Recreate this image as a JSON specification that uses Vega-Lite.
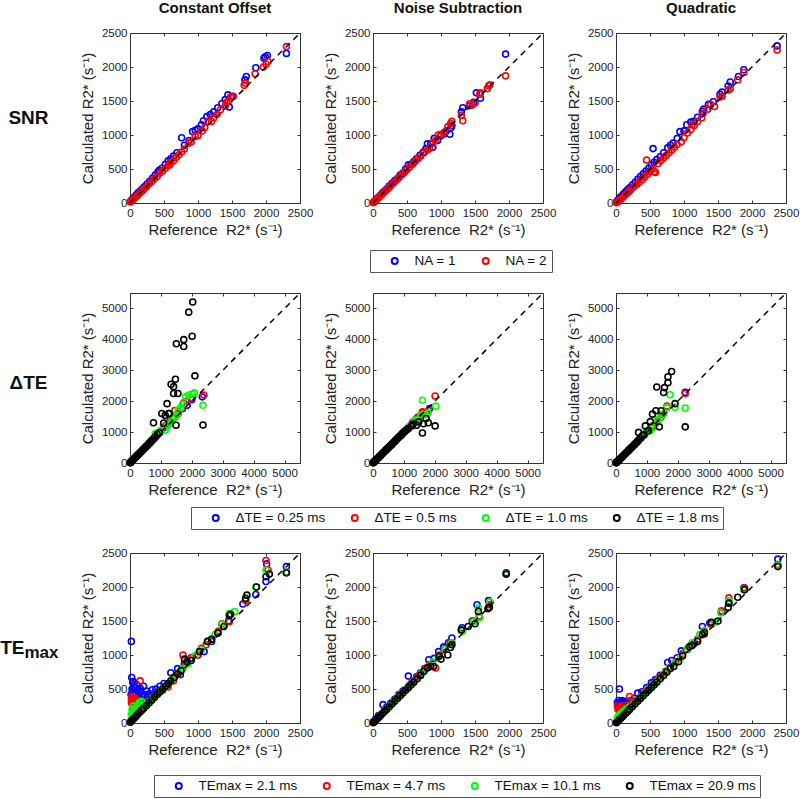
{
"$schema": "https://vega.github.io/schema/vega-lite/v6.json",
"padding": {"left": 0, "top": 0, "right": 0, "bottom": 0},
"config": {
 "font": "Liberation Sans",
 "numberFormat": "d",
 "view": {"stroke": "#333", "strokeWidth": 1},
 "axis": {"grid": false, "domain": false, "ticks": true, "tickSize": -3, "tickColor": "#333", "tickWidth": 1, "labelFontSize": 11.5, "labelColor": "#222", "titleFontSize": 15, "titleFontWeight": "normal", "titleColor": "#222", "labelOverlap": false, "tickCount": 5, "format": "d"},
 "axisX": {"labelPadding": 7, "titlePadding": 4, "labelFlush": false},
 "axisY": {"labelPadding": 6, "titlePadding": 6},
 "title": {"fontSize": 15, "fontWeight": "bold", "color": "#111", "offset": 11, "frame": "group", "anchor": "middle"},
 "legend": {"direction": "horizontal", "orient": "none", "title": null, "labelFontSize": 13.5, "labelColor": "#111", "symbolType": "circle", "symbolSize": 36, "symbolStrokeWidth": 2, "labelOffset": 13, "symbolOffset": 14, "columnPadding": 8, "padding": 4, "strokeColor": "#555", "fillColor": "#fff"}
},
"concat": [
 {"width": 57, "height": 170, "view": {"stroke": null},
  "data": {"values": [{"t": "SNR"}]},
  "mark": {"type": "text", "fontSize": 19, "fontWeight": "bold", "color": "#111"},
  "encoding": {"text": {"field": "t", "type": "nominal"}}},
 {"width": 170, "height": 170, "title": "Constant Offset",
  "resolve": {"axis": {"x": "independent", "y": "independent"}},
  "layer": [
   {"data": {"values": [
{"g":"1","x":10,"y":30},{"g":"1","x":25,"y":45},{"g":"1","x":45,"y":70},{"g":"1","x":70,"y":95},{"g":"1","x":95,"y":120},{"g":"1","x":120,"y":150},{"g":"1","x":150,"y":175},{"g":"1","x":180,"y":205},{"g":"1","x":210,"y":240},{"g":"1","x":250,"y":280},{"g":"1","x":290,"y":320},{"g":"1","x":330,"y":365},{"g":"1","x":370,"y":410},{"g":"1","x":410,"y":455},{"g":"1","x":430,"y":480},{"g":"1","x":470,"y":510},{"g":"1","x":520,"y":570},{"g":"1","x":560,"y":620},{"g":"1","x":600,"y":650},{"g":"1","x":640,"y":690},{"g":"1","x":690,"y":740},{"g":"1","x":760,"y":960},{"g":"1","x":800,"y":850},{"g":"1","x":870,"y":920},{"g":"1","x":920,"y":1050},{"g":"1","x":960,"y":1070},{"g":"1","x":1000,"y":1090},{"g":"1","x":1050,"y":1150},{"g":"1","x":1080,"y":1210},{"g":"1","x":1130,"y":1270},{"g":"1","x":1180,"y":1300},{"g":"1","x":1230,"y":1340},{"g":"1","x":1290,"y":1400},{"g":"1","x":1350,"y":1460},{"g":"1","x":1400,"y":1520},{"g":"1","x":1440,"y":1590},{"g":"1","x":1460,"y":1410},{"g":"1","x":1500,"y":1570},{"g":"1","x":1690,"y":1810},{"g":"1","x":1710,"y":1860},{"g":"1","x":1850,"y":1990},{"g":"1","x":1970,"y":2130},{"g":"1","x":1990,"y":2150},{"g":"1","x":2020,"y":2170},{"g":"1","x":2300,"y":2200},
{"g":"2","x":5,"y":15},{"g":"2","x":20,"y":30},{"g":"2","x":40,"y":45},{"g":"2","x":60,"y":65},{"g":"2","x":85,"y":90},{"g":"2","x":110,"y":110},{"g":"2","x":140,"y":140},{"g":"2","x":170,"y":170},{"g":"2","x":200,"y":200},{"g":"2","x":240,"y":235},{"g":"2","x":280,"y":280},{"g":"2","x":320,"y":315},{"g":"2","x":360,"y":355},{"g":"2","x":400,"y":390},{"g":"2","x":440,"y":440},{"g":"2","x":480,"y":470},{"g":"2","x":520,"y":510},{"g":"2","x":560,"y":550},{"g":"2","x":580,"y":560},{"g":"2","x":600,"y":590},{"g":"2","x":640,"y":620},{"g":"2","x":680,"y":670},{"g":"2","x":720,"y":710},{"g":"2","x":760,"y":750},{"g":"2","x":800,"y":795},{"g":"2","x":860,"y":880},{"g":"2","x":900,"y":900},{"g":"2","x":960,"y":980},{"g":"2","x":1000,"y":990},{"g":"2","x":1060,"y":1060},{"g":"2","x":1100,"y":1110},{"g":"2","x":1150,"y":1200},{"g":"2","x":1200,"y":1200},{"g":"2","x":1230,"y":1250},{"g":"2","x":1280,"y":1300},{"g":"2","x":1330,"y":1370},{"g":"2","x":1400,"y":1430},{"g":"2","x":1420,"y":1480},{"g":"2","x":1450,"y":1500},{"g":"2","x":1480,"y":1560},{"g":"2","x":1520,"y":1570},{"g":"2","x":1680,"y":1730},{"g":"2","x":1700,"y":1760},{"g":"2","x":1840,"y":1900},{"g":"2","x":1960,"y":2000},{"g":"2","x":2000,"y":2040},{"g":"2","x":2030,"y":2080},{"g":"2","x":2300,"y":2300}
    ]},
    "mark": {"type": "point", "filled": false, "size": 36, "strokeWidth": 1.6, "opacity": 1},
    "encoding": {
     "x": {"field": "x", "type": "quantitative", "scale": {"domain": [0, 2500], "nice": false}, "axis": {"title": "Reference\u00a0 R2* (s⁻¹)"}},
     "y": {"field": "y", "type": "quantitative", "scale": {"domain": [0, 2500], "nice": false}, "axis": {"title": "Calculated R2* (s⁻¹)"}},
     "color": {"field": "g", "type": "nominal", "scale": {"domain": ["1", "2"], "range": ["#0000ff", "#ff0000"]}, "legend": null}}},
   {"data": {"values": [{"v": 0}, {"v": 2500}]}, "mark": {"type": "line", "strokeDash": [6, 5], "color": "#000", "strokeWidth": 1.5},
    "encoding": {"x": {"field": "v", "type": "quantitative", "axis": {"orient": "top", "labels": false, "title": null}}, "y": {"field": "v", "type": "quantitative", "axis": {"orient": "right", "labels": false, "title": null}}}}
  ]},
 {"width": 170, "height": 170, "title": "Noise Subtraction",
  "resolve": {"axis": {"x": "independent", "y": "independent"}},
  "layer": [
   {"data": {"values": [
{"g":"1","x":10,"y":15},{"g":"1","x":30,"y":35},{"g":"1","x":55,"y":60},{"g":"1","x":80,"y":85},{"g":"1","x":110,"y":115},{"g":"1","x":140,"y":150},{"g":"1","x":170,"y":175},{"g":"1","x":200,"y":205},{"g":"1","x":240,"y":250},{"g":"1","x":280,"y":290},{"g":"1","x":320,"y":330},{"g":"1","x":360,"y":360},{"g":"1","x":400,"y":410},{"g":"1","x":440,"y":440},{"g":"1","x":480,"y":500},{"g":"1","x":520,"y":560},{"g":"1","x":560,"y":570},{"g":"1","x":600,"y":610},{"g":"1","x":640,"y":650},{"g":"1","x":690,"y":700},{"g":"1","x":740,"y":750},{"g":"1","x":780,"y":800},{"g":"1","x":800,"y":870},{"g":"1","x":850,"y":870},{"g":"1","x":880,"y":820},{"g":"1","x":900,"y":950},{"g":"1","x":950,"y":920},{"g":"1","x":1000,"y":990},{"g":"1","x":1050,"y":1020},{"g":"1","x":1080,"y":1060},{"g":"1","x":1130,"y":1010},{"g":"1","x":1150,"y":1110},{"g":"1","x":1160,"y":1140},{"g":"1","x":1300,"y":1340},{"g":"1","x":1320,"y":1400},{"g":"1","x":1420,"y":1430},{"g":"1","x":1480,"y":1480},{"g":"1","x":1520,"y":1620},{"g":"1","x":1580,"y":1540},{"g":"1","x":1950,"y":2190},
{"g":"2","x":5,"y":5},{"g":"2","x":25,"y":25},{"g":"2","x":50,"y":48},{"g":"2","x":75,"y":72},{"g":"2","x":100,"y":95},{"g":"2","x":130,"y":125},{"g":"2","x":160,"y":155},{"g":"2","x":190,"y":185},{"g":"2","x":220,"y":215},{"g":"2","x":260,"y":250},{"g":"2","x":300,"y":290},{"g":"2","x":340,"y":335},{"g":"2","x":380,"y":370},{"g":"2","x":420,"y":410},{"g":"2","x":460,"y":450},{"g":"2","x":500,"y":490},{"g":"2","x":540,"y":530},{"g":"2","x":580,"y":570},{"g":"2","x":620,"y":610},{"g":"2","x":660,"y":650},{"g":"2","x":700,"y":690},{"g":"2","x":750,"y":740},{"g":"2","x":800,"y":780},{"g":"2","x":830,"y":800},{"g":"2","x":880,"y":880},{"g":"2","x":920,"y":920},{"g":"2","x":960,"y":1000},{"g":"2","x":1000,"y":1010},{"g":"2","x":1050,"y":1040},{"g":"2","x":1100,"y":1120},{"g":"2","x":1140,"y":1170},{"g":"2","x":1160,"y":1200},{"g":"2","x":1300,"y":1290},{"g":"2","x":1320,"y":1210},{"g":"2","x":1420,"y":1460},{"g":"2","x":1460,"y":1440},{"g":"2","x":1500,"y":1470},{"g":"2","x":1570,"y":1600},{"g":"2","x":1580,"y":1620},{"g":"2","x":1680,"y":1680},{"g":"2","x":1700,"y":1720},{"g":"2","x":1720,"y":1740},{"g":"2","x":1950,"y":1870}
    ]},
    "mark": {"type": "point", "filled": false, "size": 36, "strokeWidth": 1.6, "opacity": 1},
    "encoding": {
     "x": {"field": "x", "type": "quantitative", "scale": {"domain": [0, 2500], "nice": false}, "axis": {"title": "Reference\u00a0 R2* (s⁻¹)"}},
     "y": {"field": "y", "type": "quantitative", "scale": {"domain": [0, 2500], "nice": false}, "axis": {"title": "Calculated R2* (s⁻¹)"}},
     "color": {"field": "g", "type": "nominal", "scale": {"domain": ["1", "2"], "range": ["#0000ff", "#ff0000"]},
      "legend": {"legendX": -3, "legendY": 217, "labelExpr": "'NA = ' + datum.label"}}}},
   {"data": {"values": [{"v": 0}, {"v": 2500}]}, "mark": {"type": "line", "strokeDash": [6, 5], "color": "#000", "strokeWidth": 1.5},
    "encoding": {"x": {"field": "v", "type": "quantitative", "axis": {"orient": "top", "labels": false, "title": null}}, "y": {"field": "v", "type": "quantitative", "axis": {"orient": "right", "labels": false, "title": null}}}}
  ]},
 {"width": 170, "height": 170, "title": "Quadratic",
  "resolve": {"axis": {"x": "independent", "y": "independent"}},
  "layer": [
   {"data": {"values": [
{"g":"1","x":10,"y":20},{"g":"1","x":30,"y":45},{"g":"1","x":55,"y":75},{"g":"1","x":80,"y":100},{"g":"1","x":110,"y":130},{"g":"1","x":140,"y":165},{"g":"1","x":170,"y":195},{"g":"1","x":200,"y":225},{"g":"1","x":240,"y":265},{"g":"1","x":280,"y":305},{"g":"1","x":320,"y":350},{"g":"1","x":360,"y":390},{"g":"1","x":400,"y":430},{"g":"1","x":440,"y":470},{"g":"1","x":480,"y":510},{"g":"1","x":520,"y":560},{"g":"1","x":560,"y":600},{"g":"1","x":600,"y":640},{"g":"1","x":545,"y":800},{"g":"1","x":650,"y":680},{"g":"1","x":700,"y":740},{"g":"1","x":760,"y":810},{"g":"1","x":800,"y":850},{"g":"1","x":840,"y":880},{"g":"1","x":900,"y":950},{"g":"1","x":940,"y":1050},{"g":"1","x":1000,"y":1060},{"g":"1","x":1040,"y":1150},{"g":"1","x":1100,"y":1190},{"g":"1","x":1140,"y":1200},{"g":"1","x":1200,"y":1260},{"g":"1","x":1270,"y":1350},{"g":"1","x":1290,"y":1380},{"g":"1","x":1360,"y":1450},{"g":"1","x":1430,"y":1490},{"g":"1","x":1530,"y":1600},{"g":"1","x":1560,"y":1630},{"g":"1","x":1650,"y":1720},{"g":"1","x":1680,"y":1780},{"g":"1","x":1800,"y":1860},{"g":"1","x":1880,"y":1960},{"g":"1","x":2370,"y":2310},
{"g":"2","x":5,"y":5},{"g":"2","x":25,"y":15},{"g":"2","x":50,"y":35},{"g":"2","x":75,"y":60},{"g":"2","x":100,"y":85},{"g":"2","x":130,"y":115},{"g":"2","x":160,"y":140},{"g":"2","x":190,"y":170},{"g":"2","x":220,"y":200},{"g":"2","x":260,"y":235},{"g":"2","x":300,"y":270},{"g":"2","x":340,"y":300},{"g":"2","x":380,"y":340},{"g":"2","x":420,"y":380},{"g":"2","x":450,"y":630},{"g":"2","x":460,"y":420},{"g":"2","x":500,"y":460},{"g":"2","x":540,"y":500},{"g":"2","x":560,"y":460},{"g":"2","x":580,"y":450},{"g":"2","x":620,"y":580},{"g":"2","x":660,"y":620},{"g":"2","x":700,"y":660},{"g":"2","x":740,"y":700},{"g":"2","x":780,"y":740},{"g":"2","x":820,"y":780},{"g":"2","x":860,"y":820},{"g":"2","x":900,"y":860},{"g":"2","x":960,"y":900},{"g":"2","x":1000,"y":960},{"g":"2","x":1050,"y":1030},{"g":"2","x":1100,"y":1080},{"g":"2","x":1120,"y":1150},{"g":"2","x":1150,"y":1140},{"g":"2","x":1200,"y":1200},{"g":"2","x":1260,"y":1250},{"g":"2","x":1280,"y":1320},{"g":"2","x":1350,"y":1380},{"g":"2","x":1390,"y":1450},{"g":"2","x":1450,"y":1420},{"g":"2","x":1530,"y":1560},{"g":"2","x":1560,"y":1570},{"g":"2","x":1650,"y":1660},{"g":"2","x":1680,"y":1680},{"g":"2","x":1790,"y":1810},{"g":"2","x":1880,"y":1920},{"g":"2","x":2370,"y":2250}
    ]},
    "mark": {"type": "point", "filled": false, "size": 36, "strokeWidth": 1.6, "opacity": 1},
    "encoding": {
     "x": {"field": "x", "type": "quantitative", "scale": {"domain": [0, 2500], "nice": false}, "axis": {"title": "Reference\u00a0 R2* (s⁻¹)"}},
     "y": {"field": "y", "type": "quantitative", "scale": {"domain": [0, 2500], "nice": false}, "axis": {"title": "Calculated R2* (s⁻¹)"}},
     "color": {"field": "g", "type": "nominal", "scale": {"domain": ["1", "2"], "range": ["#0000ff", "#ff0000"]}, "legend": null}}},
   {"data": {"values": [{"v": 0}, {"v": 2500}]}, "mark": {"type": "line", "strokeDash": [6, 5], "color": "#000", "strokeWidth": 1.5},
    "encoding": {"x": {"field": "v", "type": "quantitative", "axis": {"orient": "top", "labels": false, "title": null}}, "y": {"field": "v", "type": "quantitative", "axis": {"orient": "right", "labels": false, "title": null}}}}
  ]},
 {"width": 57, "height": 170, "view": {"stroke": null},
  "data": {"values": [{"t": "ΔTE"}]},
  "mark": {"type": "text", "fontSize": 19, "fontWeight": "bold", "color": "#111", "dy": 5},
  "encoding": {"text": {"field": "t", "type": "nominal"}}},
 {"width": 170, "height": 170,
  "resolve": {"axis": {"x": "independent", "y": "independent"}},
  "layer": [
   {"data": {"values": [
{"g":"0.25","x":20,"y":20},{"g":"0.25","x":80,"y":80},{"g":"0.25","x":150,"y":150},{"g":"0.25","x":250,"y":250},{"g":"0.25","x":350,"y":350},{"g":"0.25","x":450,"y":450},{"g":"0.25","x":550,"y":550},{"g":"0.25","x":650,"y":650},{"g":"0.25","x":750,"y":760},{"g":"0.25","x":850,"y":870},{"g":"0.25","x":950,"y":980},{"g":"0.25","x":1100,"y":1150},{"g":"0.25","x":1250,"y":1300},{"g":"0.25","x":1400,"y":1450},{"g":"0.25","x":1550,"y":1600},{"g":"0.25","x":1700,"y":1760},{"g":"0.25","x":1850,"y":1870},{"g":"0.25","x":2000,"y":2050},{"g":"0.25","x":2340,"y":2140},
{"g":"0.5","x":30,"y":30},{"g":"0.5","x":100,"y":100},{"g":"0.5","x":200,"y":200},{"g":"0.5","x":300,"y":300},{"g":"0.5","x":400,"y":400},{"g":"0.5","x":500,"y":500},{"g":"0.5","x":600,"y":600},{"g":"0.5","x":700,"y":710},{"g":"0.5","x":800,"y":820},{"g":"0.5","x":900,"y":930},{"g":"0.5","x":1000,"y":1040},{"g":"0.5","x":1150,"y":1200},{"g":"0.5","x":1300,"y":1350},{"g":"0.5","x":1450,"y":1700},{"g":"0.5","x":1550,"y":1600},{"g":"0.5","x":1740,"y":1950},{"g":"0.5","x":1850,"y":2000},{"g":"0.5","x":2000,"y":2100},{"g":"0.5","x":2390,"y":2200},
{"g":"1.0","x":40,"y":45},{"g":"1.0","x":120,"y":125},{"g":"1.0","x":220,"y":230},{"g":"1.0","x":320,"y":330},{"g":"1.0","x":420,"y":430},{"g":"1.0","x":520,"y":530},{"g":"1.0","x":620,"y":640},{"g":"1.0","x":720,"y":740},{"g":"1.0","x":820,"y":950},{"g":"1.0","x":900,"y":980},{"g":"1.0","x":1000,"y":1050},{"g":"1.0","x":1140,"y":1060},{"g":"1.0","x":1200,"y":1200},{"g":"1.0","x":1300,"y":1270},{"g":"1.0","x":1350,"y":1350},{"g":"1.0","x":1450,"y":1480},{"g":"1.0","x":1520,"y":1540},{"g":"1.0","x":1560,"y":1710},{"g":"1.0","x":1650,"y":1800},{"g":"1.0","x":1700,"y":1900},{"g":"1.0","x":1800,"y":2140},{"g":"1.0","x":1900,"y":2200},{"g":"1.0","x":2010,"y":2230},{"g":"1.0","x":2080,"y":2270},{"g":"1.0","x":2360,"y":1870},
{"g":"1.8","x":5,"y":5},{"g":"1.8","x":20,"y":22},{"g":"1.8","x":40,"y":42},{"g":"1.8","x":60,"y":62},{"g":"1.8","x":80,"y":85},{"g":"1.8","x":100,"y":105},{"g":"1.8","x":130,"y":135},{"g":"1.8","x":160,"y":165},{"g":"1.8","x":190,"y":195},{"g":"1.8","x":220,"y":230},{"g":"1.8","x":250,"y":260},{"g":"1.8","x":280,"y":290},{"g":"1.8","x":320,"y":330},{"g":"1.8","x":360,"y":370},{"g":"1.8","x":400,"y":410},{"g":"1.8","x":440,"y":455},{"g":"1.8","x":480,"y":495},{"g":"1.8","x":520,"y":535},{"g":"1.8","x":560,"y":575},{"g":"1.8","x":600,"y":620},{"g":"1.8","x":640,"y":660},{"g":"1.8","x":680,"y":700},{"g":"1.8","x":720,"y":745},{"g":"1.8","x":760,"y":1300},{"g":"1.8","x":780,"y":800},{"g":"1.8","x":820,"y":850},{"g":"1.8","x":880,"y":920},{"g":"1.8","x":950,"y":980},{"g":"1.8","x":1030,"y":1600},{"g":"1.8","x":1090,"y":1290},{"g":"1.8","x":1140,"y":1540},{"g":"1.8","x":1200,"y":1920},{"g":"1.8","x":1250,"y":1600},{"g":"1.8","x":1270,"y":1600},{"g":"1.8","x":1330,"y":2550},{"g":"1.8","x":1410,"y":2470},{"g":"1.8","x":1410,"y":2250},{"g":"1.8","x":1470,"y":2710},{"g":"1.8","x":1490,"y":1220},{"g":"1.8","x":1500,"y":3860},{"g":"1.8","x":1550,"y":2250},{"g":"1.8","x":1740,"y":3990},{"g":"1.8","x":1740,"y":3770},{"g":"1.8","x":1900,"y":4880},{"g":"1.8","x":2010,"y":4100},{"g":"1.8","x":2030,"y":5210},{"g":"1.8","x":2100,"y":2820},{"g":"1.8","x":2360,"y":1230}
    ]},
    "mark": {"type": "point", "filled": false, "size": 36, "strokeWidth": 1.6, "opacity": 1},
    "encoding": {
     "x": {"field": "x", "type": "quantitative", "scale": {"domain": [0, 5500], "nice": false}, "axis": {"title": "Reference\u00a0 R2* (s⁻¹)"}},
     "y": {"field": "y", "type": "quantitative", "scale": {"domain": [0, 5500], "nice": false}, "axis": {"title": "Calculated R2* (s⁻¹)"}},
     "color": {"field": "g", "type": "nominal", "scale": {"domain": ["0.25", "0.5", "1.0", "1.8"], "range": ["#0000ff", "#ff0000", "#00ff00", "#000000"]}, "legend": null}}},
   {"data": {"values": [{"v": 0}, {"v": 5500}]}, "mark": {"type": "line", "strokeDash": [6, 5], "color": "#000", "strokeWidth": 1.5},
    "encoding": {"x": {"field": "v", "type": "quantitative", "axis": {"orient": "top", "labels": false, "title": null}}, "y": {"field": "v", "type": "quantitative", "axis": {"orient": "right", "labels": false, "title": null}}}}
  ]},
 {"width": 170, "height": 170,
  "resolve": {"axis": {"x": "independent", "y": "independent"}},
  "layer": [
   {"data": {"values": [
{"g":"0.25","x":20,"y":20},{"g":"0.25","x":100,"y":100},{"g":"0.25","x":200,"y":200},{"g":"0.25","x":300,"y":300},{"g":"0.25","x":400,"y":400},{"g":"0.25","x":500,"y":490},{"g":"0.25","x":600,"y":580},{"g":"0.25","x":700,"y":690},{"g":"0.25","x":800,"y":800},{"g":"0.25","x":900,"y":880},{"g":"0.25","x":1000,"y":990},{"g":"0.25","x":1100,"y":1080},{"g":"0.25","x":1250,"y":1250},{"g":"0.25","x":1400,"y":1420},{"g":"0.25","x":1550,"y":1560},{"g":"0.25","x":1830,"y":1760},
{"g":"0.5","x":30,"y":30},{"g":"0.5","x":120,"y":120},{"g":"0.5","x":220,"y":220},{"g":"0.5","x":320,"y":320},{"g":"0.5","x":420,"y":420},{"g":"0.5","x":520,"y":520},{"g":"0.5","x":620,"y":620},{"g":"0.5","x":720,"y":720},{"g":"0.5","x":820,"y":830},{"g":"0.5","x":920,"y":920},{"g":"0.5","x":1020,"y":1020},{"g":"0.5","x":1150,"y":1150},{"g":"0.5","x":1300,"y":1330},{"g":"0.5","x":1450,"y":1480},{"g":"0.5","x":1600,"y":1630},{"g":"0.5","x":1600,"y":1660},{"g":"0.5","x":1800,"y":1700},{"g":"0.5","x":2010,"y":2170},
{"g":"1.0","x":40,"y":40},{"g":"1.0","x":140,"y":140},{"g":"1.0","x":240,"y":240},{"g":"1.0","x":340,"y":340},{"g":"1.0","x":440,"y":440},{"g":"1.0","x":540,"y":540},{"g":"1.0","x":640,"y":640},{"g":"1.0","x":740,"y":750},{"g":"1.0","x":840,"y":860},{"g":"1.0","x":940,"y":950},{"g":"1.0","x":1050,"y":1060},{"g":"1.0","x":1200,"y":1200},{"g":"1.0","x":1350,"y":1380},{"g":"1.0","x":1420,"y":1400},{"g":"1.0","x":1550,"y":1550},{"g":"1.0","x":1600,"y":2030},{"g":"1.0","x":1680,"y":1560},{"g":"1.0","x":1780,"y":1620},{"g":"1.0","x":2030,"y":1840},
{"g":"1.8","x":5,"y":5},{"g":"1.8","x":20,"y":20},{"g":"1.8","x":40,"y":40},{"g":"1.8","x":60,"y":60},{"g":"1.8","x":80,"y":80},{"g":"1.8","x":100,"y":100},{"g":"1.8","x":130,"y":130},{"g":"1.8","x":160,"y":160},{"g":"1.8","x":190,"y":190},{"g":"1.8","x":220,"y":220},{"g":"1.8","x":250,"y":250},{"g":"1.8","x":280,"y":280},{"g":"1.8","x":320,"y":320},{"g":"1.8","x":360,"y":360},{"g":"1.8","x":400,"y":400},{"g":"1.8","x":440,"y":440},{"g":"1.8","x":480,"y":480},{"g":"1.8","x":520,"y":520},{"g":"1.8","x":560,"y":560},{"g":"1.8","x":600,"y":600},{"g":"1.8","x":640,"y":640},{"g":"1.8","x":680,"y":680},{"g":"1.8","x":720,"y":720},{"g":"1.8","x":760,"y":760},{"g":"1.8","x":800,"y":800},{"g":"1.8","x":850,"y":850},{"g":"1.8","x":900,"y":900},{"g":"1.8","x":950,"y":950},{"g":"1.8","x":1000,"y":1000},{"g":"1.8","x":1050,"y":1040},{"g":"1.8","x":1100,"y":1080},{"g":"1.8","x":1150,"y":1120},{"g":"1.8","x":1250,"y":1200},{"g":"1.8","x":1300,"y":1260},{"g":"1.8","x":1410,"y":1220},{"g":"1.8","x":1480,"y":1330},{"g":"1.8","x":1600,"y":970},{"g":"1.8","x":1630,"y":1270},{"g":"1.8","x":1720,"y":1440},{"g":"1.8","x":1790,"y":1300},{"g":"1.8","x":2010,"y":1200}
    ]},
    "mark": {"type": "point", "filled": false, "size": 36, "strokeWidth": 1.6, "opacity": 1},
    "encoding": {
     "x": {"field": "x", "type": "quantitative", "scale": {"domain": [0, 5500], "nice": false}, "axis": {"title": "Reference\u00a0 R2* (s⁻¹)"}},
     "y": {"field": "y", "type": "quantitative", "scale": {"domain": [0, 5500], "nice": false}, "axis": {"title": "Calculated R2* (s⁻¹)"}},
     "color": {"field": "g", "type": "nominal", "scale": {"domain": ["0.25", "0.5", "1.0", "1.8"], "range": ["#0000ff", "#ff0000", "#00ff00", "#000000"]},
      "legend": {"legendX": -182, "legendY": 214, "labelExpr": "'ΔTE = ' + datum.label + ' ms'"}}}},
   {"data": {"values": [{"v": 0}, {"v": 5500}]}, "mark": {"type": "line", "strokeDash": [6, 5], "color": "#000", "strokeWidth": 1.5},
    "encoding": {"x": {"field": "v", "type": "quantitative", "axis": {"orient": "top", "labels": false, "title": null}}, "y": {"field": "v", "type": "quantitative", "axis": {"orient": "right", "labels": false, "title": null}}}}
  ]},
 {"width": 170, "height": 170,
  "resolve": {"axis": {"x": "independent", "y": "independent"}},
  "layer": [
   {"data": {"values": [
{"g":"0.25","x":20,"y":20},{"g":"0.25","x":100,"y":100},{"g":"0.25","x":200,"y":200},{"g":"0.25","x":300,"y":300},{"g":"0.25","x":400,"y":400},{"g":"0.25","x":500,"y":500},{"g":"0.25","x":600,"y":600},{"g":"0.25","x":700,"y":700},{"g":"0.25","x":800,"y":800},{"g":"0.25","x":900,"y":900},{"g":"0.25","x":1000,"y":1000},{"g":"0.25","x":1150,"y":1150},{"g":"0.25","x":1300,"y":1300},{"g":"0.25","x":1450,"y":1480},{"g":"0.25","x":1650,"y":1800},{"g":"0.25","x":2240,"y":2290},
{"g":"0.5","x":30,"y":30},{"g":"0.5","x":120,"y":120},{"g":"0.5","x":220,"y":220},{"g":"0.5","x":320,"y":320},{"g":"0.5","x":420,"y":420},{"g":"0.5","x":520,"y":520},{"g":"0.5","x":620,"y":620},{"g":"0.5","x":720,"y":720},{"g":"0.5","x":820,"y":820},{"g":"0.5","x":920,"y":920},{"g":"0.5","x":1050,"y":1050},{"g":"0.5","x":1200,"y":1210},{"g":"0.5","x":1350,"y":1380},{"g":"0.5","x":1500,"y":1560},{"g":"0.5","x":1650,"y":1840},{"g":"0.5","x":2240,"y":2250},
{"g":"1.0","x":40,"y":40},{"g":"1.0","x":140,"y":140},{"g":"1.0","x":240,"y":240},{"g":"1.0","x":340,"y":340},{"g":"1.0","x":440,"y":440},{"g":"1.0","x":540,"y":540},{"g":"1.0","x":640,"y":640},{"g":"1.0","x":740,"y":750},{"g":"1.0","x":840,"y":860},{"g":"1.0","x":960,"y":980},{"g":"1.0","x":1100,"y":1040},{"g":"1.0","x":1200,"y":1150},{"g":"1.0","x":1270,"y":1260},{"g":"1.0","x":1350,"y":1400},{"g":"1.0","x":1430,"y":1470},{"g":"1.0","x":1550,"y":1600},{"g":"1.0","x":1650,"y":1800},{"g":"1.0","x":1750,"y":2210},{"g":"1.0","x":1910,"y":1800},{"g":"1.0","x":2240,"y":1780},
{"g":"1.8","x":5,"y":5},{"g":"1.8","x":20,"y":20},{"g":"1.8","x":40,"y":40},{"g":"1.8","x":60,"y":60},{"g":"1.8","x":80,"y":80},{"g":"1.8","x":100,"y":100},{"g":"1.8","x":130,"y":130},{"g":"1.8","x":160,"y":160},{"g":"1.8","x":190,"y":190},{"g":"1.8","x":220,"y":220},{"g":"1.8","x":250,"y":250},{"g":"1.8","x":280,"y":280},{"g":"1.8","x":320,"y":320},{"g":"1.8","x":360,"y":360},{"g":"1.8","x":400,"y":400},{"g":"1.8","x":440,"y":440},{"g":"1.8","x":480,"y":480},{"g":"1.8","x":520,"y":520},{"g":"1.8","x":560,"y":560},{"g":"1.8","x":600,"y":600},{"g":"1.8","x":640,"y":640},{"g":"1.8","x":680,"y":680},{"g":"1.8","x":730,"y":990},{"g":"1.8","x":720,"y":730},{"g":"1.8","x":780,"y":800},{"g":"1.8","x":850,"y":880},{"g":"1.8","x":900,"y":920},{"g":"1.8","x":950,"y":1200},{"g":"1.8","x":1050,"y":1050},{"g":"1.8","x":1110,"y":1340},{"g":"1.8","x":1180,"y":1580},{"g":"1.8","x":1290,"y":1690},{"g":"1.8","x":1320,"y":2460},{"g":"1.8","x":1400,"y":1170},{"g":"1.8","x":1460,"y":1690},{"g":"1.8","x":1540,"y":2280},{"g":"1.8","x":1570,"y":2440},{"g":"1.8","x":1680,"y":2600},{"g":"1.8","x":1680,"y":2790},{"g":"1.8","x":1800,"y":2960},{"g":"1.8","x":1910,"y":1920},{"g":"1.8","x":2240,"y":1170}
    ]},
    "mark": {"type": "point", "filled": false, "size": 36, "strokeWidth": 1.6, "opacity": 1},
    "encoding": {
     "x": {"field": "x", "type": "quantitative", "scale": {"domain": [0, 5500], "nice": false}, "axis": {"title": "Reference\u00a0 R2* (s⁻¹)"}},
     "y": {"field": "y", "type": "quantitative", "scale": {"domain": [0, 5500], "nice": false}, "axis": {"title": "Calculated R2* (s⁻¹)"}},
     "color": {"field": "g", "type": "nominal", "scale": {"domain": ["0.25", "0.5", "1.0", "1.8"], "range": ["#0000ff", "#ff0000", "#00ff00", "#000000"]}, "legend": null}}},
   {"data": {"values": [{"v": 0}, {"v": 5500}]}, "mark": {"type": "line", "strokeDash": [6, 5], "color": "#000", "strokeWidth": 1.5},
    "encoding": {"x": {"field": "v", "type": "quantitative", "axis": {"orient": "top", "labels": false, "title": null}}, "y": {"field": "v", "type": "quantitative", "axis": {"orient": "right", "labels": false, "title": null}}}}
  ]},
 {"width": 57, "height": 170, "view": {"stroke": null},
  "layer": [
   {"data": {"values": [{"t": "TE"}]},
    "mark": {"type": "text", "fontSize": 19, "fontWeight": "bold", "color": "#111", "align": "right", "baseline": "alphabetic", "dx": -4, "dy": 16},
    "encoding": {"text": {"field": "t", "type": "nominal"}}},
   {"data": {"values": [{"t": "max"}]},
    "mark": {"type": "text", "fontSize": 17, "fontWeight": "bold", "color": "#111", "align": "left", "baseline": "alphabetic", "dx": -4, "dy": 20},
    "encoding": {"text": {"field": "t", "type": "nominal"}}}
  ]},
 {"width": 170, "height": 170,
  "resolve": {"axis": {"x": "independent", "y": "independent"}},
  "layer": [
   {"data": {"values": [
{"g":"2.1","x":20,"y":1200},{"g":"2.1","x":25,"y":670},{"g":"2.1","x":30,"y":500},{"g":"2.1","x":40,"y":600},{"g":"2.1","x":50,"y":610},{"g":"2.1","x":60,"y":560},{"g":"2.1","x":80,"y":450},{"g":"2.1","x":100,"y":560},{"g":"2.1","x":120,"y":420},{"g":"2.1","x":150,"y":510},{"g":"2.1","x":180,"y":400},{"g":"2.1","x":200,"y":540},{"g":"2.1","x":240,"y":470},{"g":"2.1","x":280,"y":430},{"g":"2.1","x":330,"y":490},{"g":"2.1","x":380,"y":500},{"g":"2.1","x":440,"y":540},{"g":"2.1","x":500,"y":580},{"g":"2.1","x":550,"y":560},{"g":"2.1","x":600,"y":740},{"g":"2.1","x":640,"y":670},{"g":"2.1","x":700,"y":800},{"g":"2.1","x":740,"y":710},{"g":"2.1","x":800,"y":870},{"g":"2.1","x":840,"y":900},{"g":"2.1","x":900,"y":960},{"g":"2.1","x":1000,"y":1000},{"g":"2.1","x":1090,"y":1050},{"g":"2.1","x":1200,"y":1200},{"g":"2.1","x":1300,"y":1330},{"g":"2.1","x":1450,"y":1500},{"g":"2.1","x":1660,"y":1750},{"g":"2.1","x":1850,"y":1890},{"g":"2.1","x":2000,"y":2080},{"g":"2.1","x":2010,"y":2340},{"g":"2.1","x":2300,"y":2300},
{"g":"2.1","x":15,"y":420},{"g":"2.1","x":35,"y":380},{"g":"2.1","x":45,"y":450},{"g":"2.1","x":70,"y":520},{"g":"2.1","x":90,"y":380},{"g":"2.1","x":110,"y":480},{"g":"2.1","x":130,"y":350},{"g":"2.1","x":160,"y":450},{"g":"2.1","x":190,"y":330},{"g":"2.1","x":220,"y":420},{"g":"2.1","x":260,"y":380},{"g":"2.1","x":300,"y":400},{"g":"2.1","x":350,"y":430},{"g":"2.1","x":400,"y":450},
{"g":"4.7","x":30,"y":390},{"g":"4.7","x":40,"y":330},{"g":"4.7","x":50,"y":340},{"g":"4.7","x":60,"y":300},{"g":"4.7","x":80,"y":260},{"g":"4.7","x":100,"y":245},{"g":"4.7","x":120,"y":290},{"g":"4.7","x":150,"y":620},{"g":"4.7","x":180,"y":280},{"g":"4.7","x":220,"y":300},{"g":"4.7","x":260,"y":310},{"g":"4.7","x":300,"y":330},{"g":"4.7","x":360,"y":380},{"g":"4.7","x":420,"y":440},{"g":"4.7","x":480,"y":480},{"g":"4.7","x":560,"y":530},{"g":"4.7","x":640,"y":620},{"g":"4.7","x":720,"y":740},{"g":"4.7","x":780,"y":1000},{"g":"4.7","x":820,"y":880},{"g":"4.7","x":900,"y":950},{"g":"4.7","x":1000,"y":1000},{"g":"4.7","x":1050,"y":1100},{"g":"4.7","x":1120,"y":1150},{"g":"4.7","x":1200,"y":1230},{"g":"4.7","x":1300,"y":1350},{"g":"4.7","x":1350,"y":1460},{"g":"4.7","x":1460,"y":1490},{"g":"4.7","x":1700,"y":1800},{"g":"4.7","x":2000,"y":2390},{"g":"4.7","x":2030,"y":2250},{"g":"4.7","x":2300,"y":2210},
{"g":"4.7","x":20,"y":300},{"g":"4.7","x":35,"y":270},{"g":"4.7","x":55,"y":380},{"g":"4.7","x":70,"y":330},{"g":"4.7","x":90,"y":300},{"g":"4.7","x":110,"y":340},{"g":"4.7","x":130,"y":260},{"g":"4.7","x":20,"y":350},
{"g":"10.1","x":20,"y":120},{"g":"10.1","x":40,"y":150},{"g":"10.1","x":60,"y":180},{"g":"10.1","x":100,"y":170},{"g":"10.1","x":120,"y":260},{"g":"10.1","x":170,"y":320},{"g":"10.1","x":200,"y":230},{"g":"10.1","x":250,"y":280},{"g":"10.1","x":300,"y":320},{"g":"10.1","x":350,"y":380},{"g":"10.1","x":400,"y":420},{"g":"10.1","x":450,"y":470},{"g":"10.1","x":500,"y":520},{"g":"10.1","x":560,"y":580},{"g":"10.1","x":620,"y":640},{"g":"10.1","x":700,"y":720},{"g":"10.1","x":780,"y":800},{"g":"10.1","x":850,"y":870},{"g":"10.1","x":950,"y":990},{"g":"10.1","x":1050,"y":1080},{"g":"10.1","x":1150,"y":1200},{"g":"10.1","x":1250,"y":1300},{"g":"10.1","x":1350,"y":1450},{"g":"10.1","x":1460,"y":1610},{"g":"10.1","x":1540,"y":1640},{"g":"10.1","x":1700,"y":1840},{"g":"10.1","x":1850,"y":2000},{"g":"10.1","x":2000,"y":2250},{"g":"10.1","x":2300,"y":2220},
{"g":"10.1","x":30,"y":200},{"g":"10.1","x":50,"y":250},{"g":"10.1","x":80,"y":220},{"g":"10.1","x":140,"y":300},{"g":"10.1","x":160,"y":260},{"g":"10.1","x":180,"y":200},{"g":"10.1","x":230,"y":250},
{"g":"20.9","x":5,"y":10},{"g":"20.9","x":15,"y":30},{"g":"20.9","x":30,"y":45},{"g":"20.9","x":50,"y":60},{"g":"20.9","x":70,"y":80},{"g":"20.9","x":90,"y":100},{"g":"20.9","x":110,"y":125},{"g":"20.9","x":140,"y":155},{"g":"20.9","x":170,"y":185},{"g":"20.9","x":200,"y":215},{"g":"20.9","x":240,"y":255},{"g":"20.9","x":280,"y":295},{"g":"20.9","x":320,"y":335},{"g":"20.9","x":360,"y":380},{"g":"20.9","x":400,"y":420},{"g":"20.9","x":440,"y":460},{"g":"20.9","x":480,"y":500},{"g":"20.9","x":520,"y":540},{"g":"20.9","x":560,"y":580},{"g":"20.9","x":600,"y":620},{"g":"20.9","x":650,"y":670},{"g":"20.9","x":700,"y":720},{"g":"20.9","x":750,"y":770},{"g":"20.9","x":800,"y":940},{"g":"20.9","x":840,"y":900},{"g":"20.9","x":900,"y":920},{"g":"20.9","x":1020,"y":1050},{"g":"20.9","x":1140,"y":1200},{"g":"20.9","x":1200,"y":1230},{"g":"20.9","x":1290,"y":1320},{"g":"20.9","x":1380,"y":1420},{"g":"20.9","x":1460,"y":1580},{"g":"20.9","x":1480,"y":1600},{"g":"20.9","x":1700,"y":1830},{"g":"20.9","x":1720,"y":1880},{"g":"20.9","x":1860,"y":2000},{"g":"20.9","x":2000,"y":2150},{"g":"20.9","x":2050,"y":2190},{"g":"20.9","x":2300,"y":2210}
    ]},
    "mark": {"type": "point", "filled": false, "size": 36, "strokeWidth": 1.6, "opacity": 1},
    "encoding": {
     "x": {"field": "x", "type": "quantitative", "scale": {"domain": [0, 2500], "nice": false}, "axis": {"title": "Reference\u00a0 R2* (s⁻¹)"}},
     "y": {"field": "y", "type": "quantitative", "scale": {"domain": [0, 2500], "nice": false}, "axis": {"title": "Calculated R2* (s⁻¹)"}},
     "color": {"field": "g", "type": "nominal", "scale": {"domain": ["2.1", "4.7", "10.1", "20.9"], "range": ["#0000ff", "#ff0000", "#00ff00", "#000000"]}, "legend": null}}},
   {"data": {"values": [{"v": 0}, {"v": 2500}]}, "mark": {"type": "line", "strokeDash": [6, 5], "color": "#000", "strokeWidth": 1.5},
    "encoding": {"x": {"field": "v", "type": "quantitative", "axis": {"orient": "top", "labels": false, "title": null}}, "y": {"field": "v", "type": "quantitative", "axis": {"orient": "right", "labels": false, "title": null}}}}
  ]},
 {"width": 170, "height": 170,
  "resolve": {"axis": {"x": "independent", "y": "independent"}},
  "layer": [
   {"data": {"values": [
{"g":"2.1","x":10,"y":20},{"g":"2.1","x":40,"y":60},{"g":"2.1","x":80,"y":110},{"g":"2.1","x":148,"y":270},{"g":"2.1","x":200,"y":230},{"g":"2.1","x":260,"y":290},{"g":"2.1","x":320,"y":350},{"g":"2.1","x":380,"y":420},{"g":"2.1","x":440,"y":470},{"g":"2.1","x":520,"y":690},{"g":"2.1","x":560,"y":580},{"g":"2.1","x":640,"y":680},{"g":"2.1","x":700,"y":740},{"g":"2.1","x":760,"y":800},{"g":"2.1","x":820,"y":930},{"g":"2.1","x":900,"y":950},{"g":"2.1","x":965,"y":1050},{"g":"2.1","x":1040,"y":1120},{"g":"2.1","x":1110,"y":1180},{"g":"2.1","x":1160,"y":1250},{"g":"2.1","x":1310,"y":1400},{"g":"2.1","x":1460,"y":1500},{"g":"2.1","x":1530,"y":1740},{"g":"2.1","x":1700,"y":1800},{"g":"2.1","x":1960,"y":2210},
{"g":"4.7","x":15,"y":20},{"g":"4.7","x":50,"y":60},{"g":"4.7","x":100,"y":110},{"g":"4.7","x":170,"y":190},{"g":"4.7","x":230,"y":250},{"g":"4.7","x":290,"y":310},{"g":"4.7","x":350,"y":370},{"g":"4.7","x":410,"y":430},{"g":"4.7","x":470,"y":490},{"g":"4.7","x":530,"y":550},{"g":"4.7","x":600,"y":620},{"g":"4.7","x":680,"y":700},{"g":"4.7","x":760,"y":790},{"g":"4.7","x":830,"y":860},{"g":"4.7","x":920,"y":810},{"g":"4.7","x":980,"y":1000},{"g":"4.7","x":1060,"y":1100},{"g":"4.7","x":1140,"y":1180},{"g":"4.7","x":1300,"y":1360},{"g":"4.7","x":1470,"y":1500},{"g":"4.7","x":1560,"y":1570},{"g":"4.7","x":1710,"y":1740},{"g":"4.7","x":1960,"y":2190},
{"g":"10.1","x":20,"y":25},{"g":"10.1","x":60,"y":70},{"g":"10.1","x":120,"y":130},{"g":"10.1","x":190,"y":200},{"g":"10.1","x":250,"y":260},{"g":"10.1","x":310,"y":320},{"g":"10.1","x":370,"y":380},{"g":"10.1","x":430,"y":440},{"g":"10.1","x":490,"y":500},{"g":"10.1","x":560,"y":570},{"g":"10.1","x":640,"y":650},{"g":"10.1","x":720,"y":740},{"g":"10.1","x":800,"y":820},{"g":"10.1","x":880,"y":900},{"g":"10.1","x":960,"y":970},{"g":"10.1","x":1060,"y":1080},{"g":"10.1","x":1160,"y":1180},{"g":"10.1","x":1320,"y":1350},{"g":"10.1","x":1480,"y":1490},{"g":"10.1","x":1550,"y":1690},{"g":"10.1","x":1570,"y":1550},{"g":"10.1","x":1720,"y":1780},{"g":"10.1","x":1960,"y":2190},
{"g":"20.9","x":5,"y":5},{"g":"20.9","x":15,"y":15},{"g":"20.9","x":30,"y":30},{"g":"20.9","x":50,"y":50},{"g":"20.9","x":70,"y":70},{"g":"20.9","x":90,"y":90},{"g":"20.9","x":110,"y":110},{"g":"20.9","x":140,"y":140},{"g":"20.9","x":170,"y":170},{"g":"20.9","x":200,"y":200},{"g":"20.9","x":240,"y":240},{"g":"20.9","x":280,"y":280},{"g":"20.9","x":320,"y":320},{"g":"20.9","x":360,"y":360},{"g":"20.9","x":400,"y":400},{"g":"20.9","x":440,"y":440},{"g":"20.9","x":480,"y":480},{"g":"20.9","x":520,"y":520},{"g":"20.9","x":560,"y":560},{"g":"20.9","x":600,"y":600},{"g":"20.9","x":650,"y":650},{"g":"20.9","x":700,"y":700},{"g":"20.9","x":750,"y":760},{"g":"20.9","x":800,"y":810},{"g":"20.9","x":850,"y":830},{"g":"20.9","x":890,"y":830},{"g":"20.9","x":970,"y":980},{"g":"20.9","x":1000,"y":940},{"g":"20.9","x":1100,"y":1000},{"g":"20.9","x":1140,"y":1110},{"g":"20.9","x":1160,"y":1150},{"g":"20.9","x":1300,"y":1370},{"g":"20.9","x":1400,"y":1420},{"g":"20.9","x":1500,"y":1460},{"g":"20.9","x":1550,"y":1640},{"g":"20.9","x":1690,"y":1680},{"g":"20.9","x":1710,"y":1700},{"g":"20.9","x":1960,"y":2190}
    ]},
    "mark": {"type": "point", "filled": false, "size": 36, "strokeWidth": 1.6, "opacity": 1},
    "encoding": {
     "x": {"field": "x", "type": "quantitative", "scale": {"domain": [0, 2500], "nice": false}, "axis": {"title": "Reference\u00a0 R2* (s⁻¹)"}},
     "y": {"field": "y", "type": "quantitative", "scale": {"domain": [0, 2500], "nice": false}, "axis": {"title": "Calculated R2* (s⁻¹)"}},
     "color": {"field": "g", "type": "nominal", "scale": {"domain": ["2.1", "4.7", "10.1", "20.9"], "range": ["#0000ff", "#ff0000", "#00ff00", "#000000"]},
      "legend": {"legendX": -219, "legendY": 222, "labelExpr": "'TEmax = ' + datum.label + ' ms'"}}}},
   {"data": {"values": [{"v": 0}, {"v": 2500}]}, "mark": {"type": "line", "strokeDash": [6, 5], "color": "#000", "strokeWidth": 1.5},
    "encoding": {"x": {"field": "v", "type": "quantitative", "axis": {"orient": "top", "labels": false, "title": null}}, "y": {"field": "v", "type": "quantitative", "axis": {"orient": "right", "labels": false, "title": null}}}}
  ]},
 {"width": 170, "height": 170,
  "resolve": {"axis": {"x": "independent", "y": "independent"}},
  "layer": [
   {"data": {"values": [
{"g":"2.1","x":30,"y":250},{"g":"2.1","x":50,"y":500},{"g":"2.1","x":60,"y":290},{"g":"2.1","x":80,"y":300},{"g":"2.1","x":100,"y":310},{"g":"2.1","x":130,"y":280},{"g":"2.1","x":170,"y":290},{"g":"2.1","x":220,"y":330},{"g":"2.1","x":270,"y":360},{"g":"2.1","x":320,"y":440},{"g":"2.1","x":380,"y":460},{"g":"2.1","x":450,"y":520},{"g":"2.1","x":520,"y":590},{"g":"2.1","x":580,"y":640},{"g":"2.1","x":650,"y":700},{"g":"2.1","x":760,"y":890},{"g":"2.1","x":820,"y":920},{"g":"2.1","x":900,"y":960},{"g":"2.1","x":960,"y":1060},{"g":"2.1","x":1050,"y":1080},{"g":"2.1","x":1150,"y":1170},{"g":"2.1","x":1270,"y":1420},{"g":"2.1","x":1380,"y":1470},{"g":"2.1","x":1560,"y":1630},{"g":"2.1","x":1660,"y":1770},{"g":"2.1","x":1880,"y":1990},{"g":"2.1","x":2380,"y":2410},
{"g":"2.1","x":20,"y":300},{"g":"2.1","x":40,"y":330},{"g":"2.1","x":70,"y":260},{"g":"2.1","x":90,"y":330},{"g":"2.1","x":120,"y":300},{"g":"2.1","x":150,"y":320},{"g":"2.1","x":190,"y":300},
{"g":"4.7","x":30,"y":200},{"g":"4.7","x":50,"y":230},{"g":"4.7","x":80,"y":210},{"g":"4.7","x":110,"y":230},{"g":"4.7","x":200,"y":390},{"g":"4.7","x":250,"y":300},{"g":"4.7","x":300,"y":330},{"g":"4.7","x":360,"y":380},{"g":"4.7","x":420,"y":460},{"g":"4.7","x":480,"y":500},{"g":"4.7","x":540,"y":560},{"g":"4.7","x":600,"y":630},{"g":"4.7","x":660,"y":680},{"g":"4.7","x":730,"y":760},{"g":"4.7","x":800,"y":820},{"g":"4.7","x":880,"y":900},{"g":"4.7","x":980,"y":1020},{"g":"4.7","x":1100,"y":1140},{"g":"4.7","x":1200,"y":1230},{"g":"4.7","x":1300,"y":1310},{"g":"4.7","x":1400,"y":1450},{"g":"4.7","x":1550,"y":1650},{"g":"4.7","x":1660,"y":1840},{"g":"4.7","x":1890,"y":1990},{"g":"4.7","x":2380,"y":2330},
{"g":"4.7","x":20,"y":250},{"g":"4.7","x":60,"y":200},{"g":"4.7","x":90,"y":250},{"g":"4.7","x":140,"y":220},{"g":"4.7","x":170,"y":260},
{"g":"10.1","x":20,"y":80},{"g":"10.1","x":40,"y":110},{"g":"10.1","x":70,"y":140},{"g":"10.1","x":110,"y":170},{"g":"10.1","x":150,"y":200},{"g":"10.1","x":200,"y":240},{"g":"10.1","x":260,"y":280},{"g":"10.1","x":320,"y":330},{"g":"10.1","x":380,"y":390},{"g":"10.1","x":440,"y":450},{"g":"10.1","x":500,"y":510},{"g":"10.1","x":560,"y":570},{"g":"10.1","x":630,"y":640},{"g":"10.1","x":700,"y":720},{"g":"10.1","x":780,"y":800},{"g":"10.1","x":860,"y":880},{"g":"10.1","x":950,"y":960},{"g":"10.1","x":1050,"y":1090},{"g":"10.1","x":1120,"y":1180},{"g":"10.1","x":1230,"y":1300},{"g":"10.1","x":1300,"y":1360},{"g":"10.1","x":1450,"y":1480},{"g":"10.1","x":1540,"y":1620},{"g":"10.1","x":1660,"y":1800},{"g":"10.1","x":1880,"y":1960},{"g":"10.1","x":2380,"y":2320},
{"g":"20.9","x":5,"y":5},{"g":"20.9","x":15,"y":15},{"g":"20.9","x":30,"y":30},{"g":"20.9","x":50,"y":50},{"g":"20.9","x":70,"y":70},{"g":"20.9","x":90,"y":90},{"g":"20.9","x":110,"y":110},{"g":"20.9","x":140,"y":140},{"g":"20.9","x":170,"y":170},{"g":"20.9","x":200,"y":200},{"g":"20.9","x":240,"y":240},{"g":"20.9","x":280,"y":280},{"g":"20.9","x":320,"y":320},{"g":"20.9","x":360,"y":360},{"g":"20.9","x":400,"y":400},{"g":"20.9","x":440,"y":440},{"g":"20.9","x":480,"y":480},{"g":"20.9","x":520,"y":520},{"g":"20.9","x":560,"y":560},{"g":"20.9","x":600,"y":600},{"g":"20.9","x":650,"y":650},{"g":"20.9","x":700,"y":700},{"g":"20.9","x":750,"y":750},{"g":"20.9","x":800,"y":800},{"g":"20.9","x":850,"y":830},{"g":"20.9","x":920,"y":900},{"g":"20.9","x":980,"y":990},{"g":"20.9","x":1080,"y":1120},{"g":"20.9","x":1120,"y":1140},{"g":"20.9","x":1200,"y":1200},{"g":"20.9","x":1270,"y":1300},{"g":"20.9","x":1300,"y":1330},{"g":"20.9","x":1400,"y":1480},{"g":"20.9","x":1500,"y":1500},{"g":"20.9","x":1650,"y":1700},{"g":"20.9","x":1660,"y":1760},{"g":"20.9","x":1790,"y":1850},{"g":"20.9","x":1890,"y":1960},{"g":"20.9","x":2380,"y":2300}
    ]},
    "mark": {"type": "point", "filled": false, "size": 36, "strokeWidth": 1.6, "opacity": 1},
    "encoding": {
     "x": {"field": "x", "type": "quantitative", "scale": {"domain": [0, 2500], "nice": false}, "axis": {"title": "Reference\u00a0 R2* (s⁻¹)"}},
     "y": {"field": "y", "type": "quantitative", "scale": {"domain": [0, 2500], "nice": false}, "axis": {"title": "Calculated R2* (s⁻¹)"}},
     "color": {"field": "g", "type": "nominal", "scale": {"domain": ["2.1", "4.7", "10.1", "20.9"], "range": ["#0000ff", "#ff0000", "#00ff00", "#000000"]}, "legend": null}}},
   {"data": {"values": [{"v": 0}, {"v": 2500}]}, "mark": {"type": "line", "strokeDash": [6, 5], "color": "#000", "strokeWidth": 1.5},
    "encoding": {"x": {"field": "v", "type": "quantitative", "axis": {"orient": "top", "labels": false, "title": null}}, "y": {"field": "v", "type": "quantitative", "axis": {"orient": "right", "labels": false, "title": null}}}}
  ]}
],
"columns": 4,
"spacing": {"row": 90, "column": 73},
"bounds": "flush",
"resolve": {"scale": {"color": "independent", "x": "independent", "y": "independent"}, "legend": {"color": "independent"}}
}
